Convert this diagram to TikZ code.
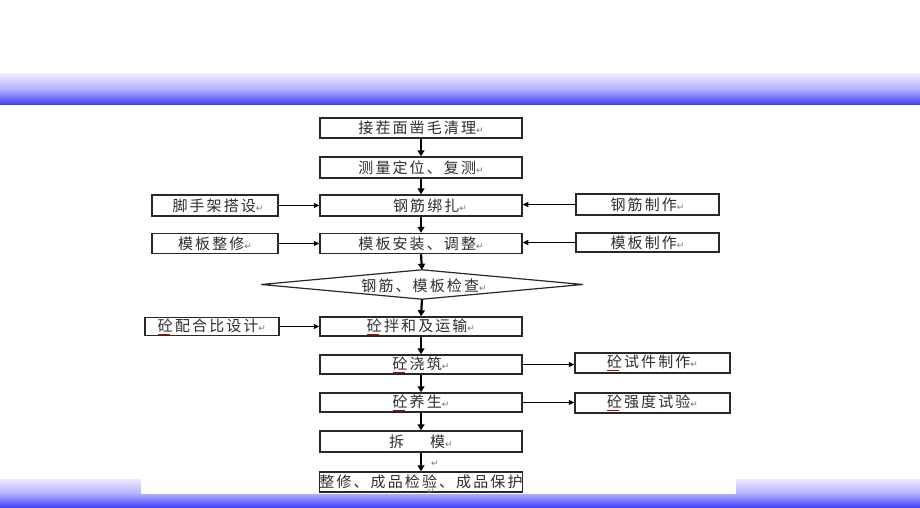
\documentclass[tikz,border=0pt]{standalone}
\usepackage{fontspec}
\setmainfont{Noto Sans CJK SC}
\newfontfamily\cjk[LetterSpace=14]{Noto Sans CJK SC}
\newfontfamily\symf{DejaVu Sans}
\usetikzlibrary{arrows.meta}
\definecolor{bandtop}{RGB}{240,232,255}
\definecolor{bandmid}{RGB}{176,176,255}
\definecolor{bandbot}{RGB}{60,60,245}
\definecolor{ink}{RGB}{40,40,40}
\newcommand{\parmark}{{\symf\fontsize{9}{9}\selectfont\color{black!55}↵}}
\newcommand{\zg}{\makebox[0pt][l]{\raisebox{-2.8pt}{\color{red!80!black}\rule{12pt}{0.5pt}}}砼}
\tikzset{
  box/.style={draw=ink, line width=1.5pt, inner sep=0pt, fill=white,
    font=\cjk\fontsize{15}{15}\selectfont, text=black!82},
  varr/.style={draw=black, line width=2.2pt, -{Triangle[length=6pt,width=7pt]}},
  harr/.style={draw=black, line width=1.4pt, -{Triangle[length=5.5pt,width=5pt]}},
}
\begin{document}
\begin{tikzpicture}[x=1pt,y=-1pt]
\useasboundingbox (0,0) rectangle (920,508);
\fill[white] (0,0) rectangle (920,508);
% top band
\shade[top color=bandtop, bottom color=bandbot, middle color=bandmid] (0,74) rectangle (920,105);
% bottom band
\shade[top color=bandtop, bottom color=bandbot, middle color=bandmid] (0,479) rectangle (920,508);
\fill[white] (141,479) rectangle (736,494);

% main column
\node[box, minimum width=202pt, minimum height=20pt] (b1) at (421,128) {接茬面凿毛清理\parmark};
\node[box, minimum width=202pt, minimum height=21pt] (b2) at (421,167.5) {测量定位、复测\parmark};
\node[box, minimum width=202pt, minimum height=21pt] (b3) at (421,205.5) {\hspace{18pt}钢筋绑扎\parmark};
\node[box, minimum width=202pt, minimum height=20pt] (b4) at (421,243.5) {模板安装、调整\parmark};
\node[minimum width=321pt, minimum height=29pt, inner sep=0pt] (dia) at (422,284.5) {};
\draw[draw=ink, line width=1.2pt] (dia.west) -- (dia.north) -- (dia.east) -- (dia.south) -- cycle;
\node[font=\cjk\fontsize{15}{15}\selectfont, text=black!82, inner sep=0pt] (diat) at (424,285.5) {钢筋、模板检查\parmark};
\node[box, minimum width=202pt, minimum height=19pt] (b5) at (421,326.5) {\zg 拌和及运输\parmark};
\node[box, minimum width=202pt, minimum height=19pt] (b6) at (421,364.5) {\zg 浇筑\parmark};
\node[box, minimum width=202pt, minimum height=19pt] (b7) at (421,402.5) {\zg 养生\parmark};
\node[box, minimum width=202pt, minimum height=21pt] (b8) at (421,441.5) {拆\hspace{26pt}模\parmark};
\node[box, minimum width=200pt, minimum height=20pt] (b9) at (421,482) {整修、成品检验、成品保护};
\node[inner sep=0pt] (pm1) at (435,464) {\parmark};
\node[inner sep=0pt] (pm2) at (431,492) {\parmark};

% left boxes
\node[box, minimum width=126pt, minimum height=21pt] (l1) at (215,205.5) {\hspace{6pt}脚手架搭设\parmark};
\node[box, minimum width=126pt, minimum height=20pt] (l2) at (215,243.5) {模板整修\parmark};
\node[box, minimum width=134pt, minimum height=18pt] (l3) at (212,326.5) {\zg 配合比设计\parmark};

% right boxes
\node[box, minimum width=143pt, minimum height=21pt] (r1) at (647.5,204.5) {钢筋制作\parmark};
\node[box, minimum width=143pt, minimum height=19pt] (r2) at (647.5,242.5) {模板制作\parmark};
\node[box, minimum width=155pt, minimum height=20pt] (r3) at (652.5,363) {\zg 试件制作\parmark};
\node[box, minimum width=155pt, minimum height=20pt] (r4) at (652.5,403) {\zg 强度试验\parmark};

% vertical arrows
\draw[varr] (b1.south) -- (b2.north);
\draw[varr] (b2.south) -- (b3.north);
\draw[varr] (b3.south) -- (b4.north);
\draw[varr] (b4.south) -- (dia.north);
\draw[varr] (dia.south) -- (b5.north);
\draw[varr] (b5.south) -- (b6.north);
\draw[varr] (b6.south) -- (b7.north);
\draw[varr] (b7.south) -- (b8.north);
\draw[varr] (b8.south) -- (b9.north);

% horizontal arrows
\draw[harr] (l1.east) -- (b3.west);
\draw[harr] (l2.east) -- (b4.west);
\draw[harr] (l3.east) -- (b5.west);
\draw[harr] (r1.west) -- (r1.west -| b3.east);
\draw[harr] (r2.west) -- (r2.west -| b4.east);
\draw[harr] (b6.east) -- (b6.east -| r3.west);
\draw[harr] (b7.east) -- (b7.east -| r4.west);
\end{tikzpicture}
\end{document}
